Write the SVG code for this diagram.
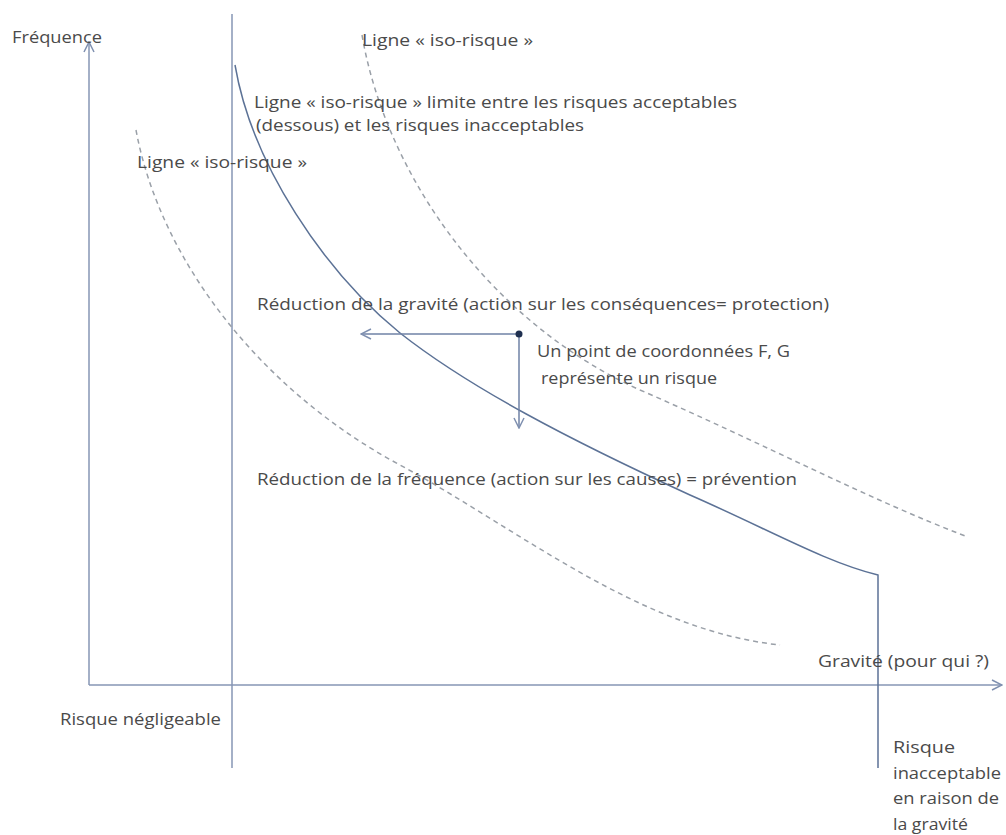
<svg xmlns="http://www.w3.org/2000/svg" width="1006" height="835" viewBox="0 0 1006 835">
<style>
text{font-family:"Open Sans","Liberation Sans",sans-serif;font-size:15.5px;fill:#4a4a4a}
.ax{stroke:#8696b4;stroke-width:1.5;fill:none}
.solid{stroke:#5c7296;stroke-width:1.5;fill:none}
.dash{stroke:#9aa0a8;stroke-width:1.5;fill:none;stroke-dasharray:5 4}
.arr{stroke:#6f82a6;stroke-width:1.5;fill:none}
</style>
<defs>
<marker id="chev" viewBox="0 0 12 12" refX="11" refY="6" markerWidth="12" markerHeight="12" markerUnits="userSpaceOnUse" orient="auto">
<path d="M1,1 L11,6 L1,11" fill="none" stroke="#7f90b0" stroke-width="1.5"/>
</marker>
</defs>
<rect width="1006" height="835" fill="#ffffff"/>
<g id="connectors">
<line class="ax" x1="89" y1="685" x2="89" y2="42" marker-end="url(#chev)"/>
<line class="ax" x1="89" y1="685" x2="1002" y2="685" marker-end="url(#chev)"/>
<line class="ax" x1="232" y1="14" x2="232" y2="768"/>
<path class="solid" d="M235,65 C252,165 325,272 400,333 C470,388 570,440 690,495 C770,530 825,562 878,575 L878,768"/>
<path class="dash" d="M362,35 C385,170 485,320 640,390 C760,442 870,500 968,537"/>
<path class="dash" d="M136,130 C160,260 260,390 400,465 C520,530 640,630 780,645"/>
<line class="arr" x1="519" y1="334" x2="361" y2="334" marker-end="url(#chev)"/>
<line class="arr" x1="519" y1="334" x2="519" y2="428" marker-end="url(#chev)"/>
</g>
<g id="point"><circle cx="519" cy="334" r="3.5" fill="#1f3050"/></g>
<g id="label-frequence"><text x="12" y="43" textLength="90" lengthAdjust="spacingAndGlyphs">Fréquence</text></g>
<g id="label-iso-top"><text x="362" y="46" textLength="171" lengthAdjust="spacingAndGlyphs">Ligne « iso-risque »</text></g>
<g id="label-iso-limite">
<text x="254" y="108" textLength="483" lengthAdjust="spacingAndGlyphs">Ligne « iso-risque » limite entre les risques acceptables</text>
<text x="256" y="131" textLength="328" lengthAdjust="spacingAndGlyphs">(dessous) et les risques inacceptables</text>
</g>
<g id="label-iso-mid"><text x="137" y="168" textLength="170" lengthAdjust="spacingAndGlyphs">Ligne « iso-risque »</text></g>
<g id="label-gravite-red"><text x="257" y="310" textLength="572" lengthAdjust="spacingAndGlyphs">Réduction de la gravité (action sur les conséquences= protection)</text></g>
<g id="label-point">
<text x="537" y="357" textLength="253" lengthAdjust="spacingAndGlyphs">Un point de coordonnées F, G</text>
<text x="541" y="384" textLength="176" lengthAdjust="spacingAndGlyphs">représente un risque</text>
</g>
<g id="label-freq-red"><text x="257" y="485" textLength="540" lengthAdjust="spacingAndGlyphs">Réduction de la fréquence (action sur les causes) = prévention</text></g>
<g id="label-gravite"><text x="818" y="667" textLength="171" lengthAdjust="spacingAndGlyphs">Gravité (pour qui ?)</text></g>
<g id="label-negligeable"><text x="60" y="725" textLength="161" lengthAdjust="spacingAndGlyphs">Risque négligeable</text></g>
<g id="label-inacceptable">
<text x="893" y="753" textLength="62" lengthAdjust="spacingAndGlyphs">Risque</text>
<text x="893" y="779" textLength="108" lengthAdjust="spacingAndGlyphs">inacceptable</text>
<text x="893" y="804" textLength="106" lengthAdjust="spacingAndGlyphs">en raison de</text>
<text x="893" y="830" textLength="75" lengthAdjust="spacingAndGlyphs">la gravité</text>
</g>
</svg>
